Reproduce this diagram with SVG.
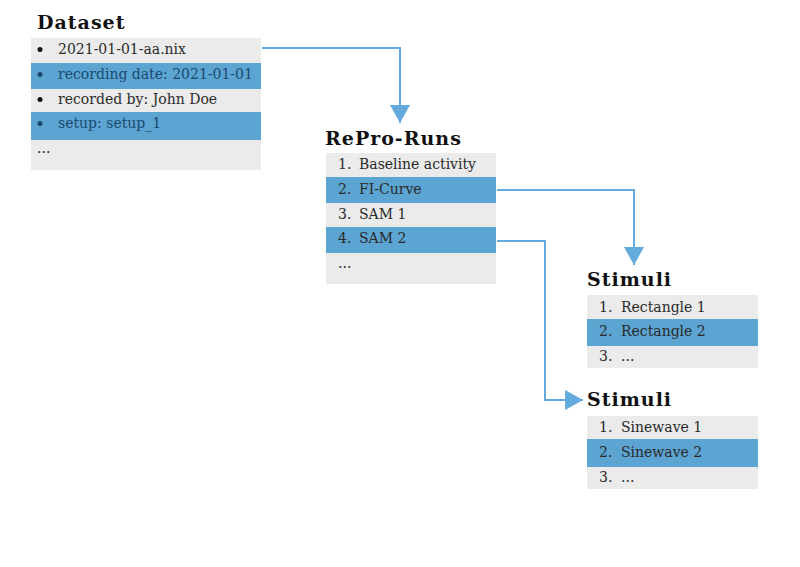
<svg xmlns="http://www.w3.org/2000/svg" width="800" height="567" viewBox="0 0 800 567">
<defs>
<style>
.title{font-family:"DejaVu Serif",serif;font-weight:bold;font-size:19px;letter-spacing:1px;fill:#111}
.t{font-family:"DejaVu Serif",serif;font-size:14px;fill:#2a2a2a}
.tb{font-family:"DejaVu Serif",serif;font-size:14px;fill:#1a4a70}
.g{fill:#ebebeb}
.b{fill:#5ca4d2}
.c{fill:none;stroke:#63abdd;stroke-width:2}
</style>
<marker id="ah" markerUnits="userSpaceOnUse" markerWidth="20" markerHeight="20" viewBox="0 0 17 19" refX="17" refY="9.5" orient="auto">
<path d="M0,0 L17,9.5 L0,19 Z" fill="#63abdd"/>
</marker>
</defs>
<rect width="800" height="567" fill="#fff"/>
<g id="dataset">
<text class="title" x="37" y="29">Dataset</text>
<rect class="g" x="31" y="38" width="230" height="25"/>
<rect class="b" x="31" y="63" width="230" height="26"/>
<rect class="g" x="31" y="89" width="230" height="23"/>
<rect class="b" x="31" y="112" width="230" height="28"/>
<rect class="g" x="31" y="140" width="230" height="30"/>
<circle cx="40" cy="49.5" r="2.5" fill="#111"/>
<text class="t" x="58" y="54">2021-01-01-aa.nix</text>
<circle cx="40" cy="74.5" r="2.5" fill="#1a4a70"/>
<text class="tb" x="58" y="79">recording date: 2021-01-01</text>
<circle cx="40" cy="99.5" r="2.5" fill="#111"/>
<text class="t" x="58" y="104">recorded by: John Doe</text>
<circle cx="40" cy="123.5" r="2.5" fill="#1a4a70"/>
<text class="tb" x="58" y="128">setup: setup_1</text>
<text class="t" x="37" y="153">...</text>
</g>
<g id="repro-runs">
<text class="title" x="325" y="145">RePro-Runs</text>
<rect class="g" x="326" y="153" width="170" height="24"/>
<rect class="b" x="326" y="177" width="170" height="26"/>
<rect class="g" x="326" y="203" width="170" height="24"/>
<rect class="b" x="326" y="227" width="170" height="26"/>
<rect class="g" x="326" y="253" width="170" height="31"/>
<text class="t" x="338" y="169">1.</text><text class="t" x="359" y="169">Baseline activity</text>
<text class="t" x="338" y="194">2.</text><text class="t" x="359" y="194">FI-Curve</text>
<text class="t" x="338" y="219">3.</text><text class="t" x="359" y="219">SAM 1</text>
<text class="t" x="338" y="243">4.</text><text class="t" x="359" y="243">SAM 2</text>
<text class="t" x="338" y="268">...</text>
</g>
<g id="stimuli-1">
<text class="title" x="587" y="286">Stimuli</text>
<rect class="g" x="587" y="295" width="171" height="24"/>
<rect class="b" x="587" y="319" width="171" height="27"/>
<rect class="g" x="587" y="346" width="171" height="22"/>
<text class="t" x="599" y="312">1.</text><text class="t" x="621" y="312">Rectangle 1</text>
<text class="t" x="599" y="336">2.</text><text class="t" x="621" y="336">Rectangle 2</text>
<text class="t" x="599" y="361">3.</text><text class="t" x="621" y="361">...</text>
</g>
<g id="stimuli-2">
<text class="title" x="587" y="406">Stimuli</text>
<rect class="g" x="587" y="416" width="171" height="23"/>
<rect class="b" x="587" y="439" width="171" height="28"/>
<rect class="g" x="587" y="467" width="171" height="22"/>
<text class="t" x="599" y="432">1.</text><text class="t" x="621" y="432">Sinewave 1</text>
<text class="t" x="599" y="457">2.</text><text class="t" x="621" y="457">Sinewave 2</text>
<text class="t" x="599" y="482">3.</text><text class="t" x="621" y="482">...</text>
</g>
<g id="connectors">
<path class="c" d="M262,48 H400 V123" marker-end="url(#ah)"/>
<path class="c" d="M497,190 H634 V265" marker-end="url(#ah)"/>
<path class="c" d="M497,241 H545 V400 H583" marker-end="url(#ah)"/>
</g>
</svg>
